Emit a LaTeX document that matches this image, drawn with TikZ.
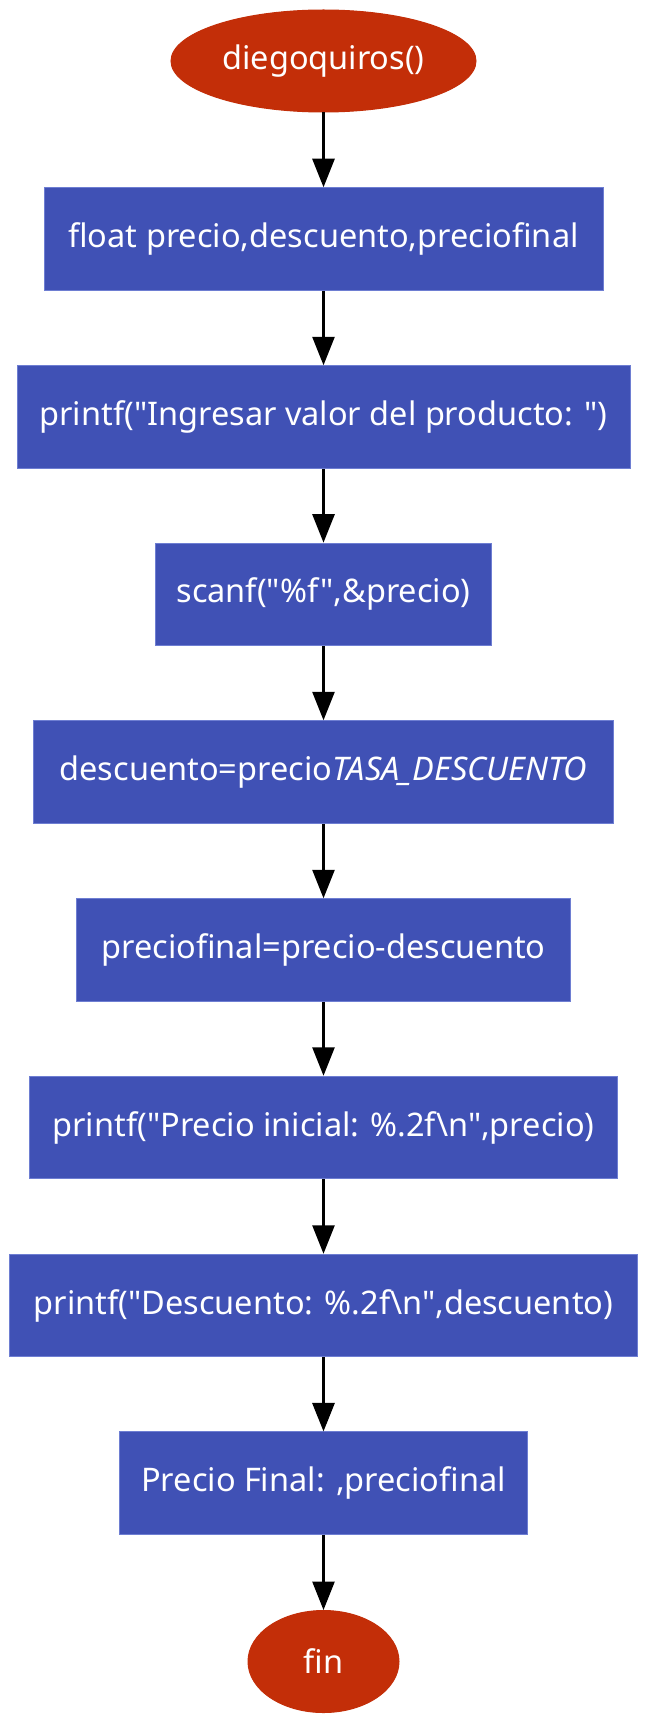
\documentclass[tikz,border=0pt]{standalone}
\usepackage{fontspec}
\setmainfont{Noto Sans}[Ligatures=TeXOff]
\usetikzlibrary{shapes.geometric,arrows.meta}
\definecolor{termred}{RGB}{195,46,8}
\definecolor{procblue}{RGB}{64,81,181}
\definecolor{procedge}{RGB}{110,126,210}
\tikzset{
  x=1pt,y=-1pt,
  procbox/.style={rectangle,fill=procblue,draw=procedge,line width=1pt,
    minimum height=102.5pt,inner sep=0pt,text=white,
    font=\fontsize{32.5}{38}\selectfont},
  termnode/.style={ellipse,fill=termred,draw=termred,line width=1pt,
    minimum height=102pt,inner sep=0pt,text=white,
    font=\fontsize{32.5}{38}\selectfont},
  flow/.style={line width=2.8pt,-{Triangle[length=28.5pt,width=22pt]}}
}
\begin{document}
\begin{tikzpicture}
\useasboundingbox (0,0) rectangle (661,1736);
\fill[white] (0,0) rectangle (661,1736);
\node[termnode,minimum width=305pt] (n0) at (323.5,61) {diegoquiros()};
\node[procbox,minimum width=559pt] (n1) at (323.5,239) {float precio,descuento,preciofinal};
\node[procbox,minimum width=613pt] (n2) at (323.5,417) {printf("Ingresar valor del producto: ")};
\node[procbox,minimum width=336pt] (n3) at (323.5,594.4) {scanf("\%f",\&precio)};
\node[procbox,minimum width=580.4pt] (n4) at (323.5,772) {descuento=precio\textit{TASA\_DESCUENTO}};
\node[procbox,minimum width=494.4pt] (n5) at (323.5,950) {preciofinal=precio-descuento};
\node[procbox,minimum width=588.7pt] (n6) at (323.5,1127.5) {printf("Precio inicial: \%.2f\textbackslash n",precio)};
\node[procbox,minimum width=627.6pt] (n7) at (323.5,1305.5) {printf("Descuento: \%.2f\textbackslash n",descuento)};
\node[procbox,minimum width=408.4pt] (n8) at (323.5,1483.2) {Precio Final: ,preciofinal};
\node[termnode,minimum width=151pt] (n9) at (323.5,1661.5) {fin};
\foreach \a/\b in {n0/n1,n1/n2,n2/n3,n3/n4,n4/n5,n5/n6,n6/n7,n7/n8,n8/n9}
  \draw[flow] (\a) -- (\b);
\end{tikzpicture}
\end{document}
